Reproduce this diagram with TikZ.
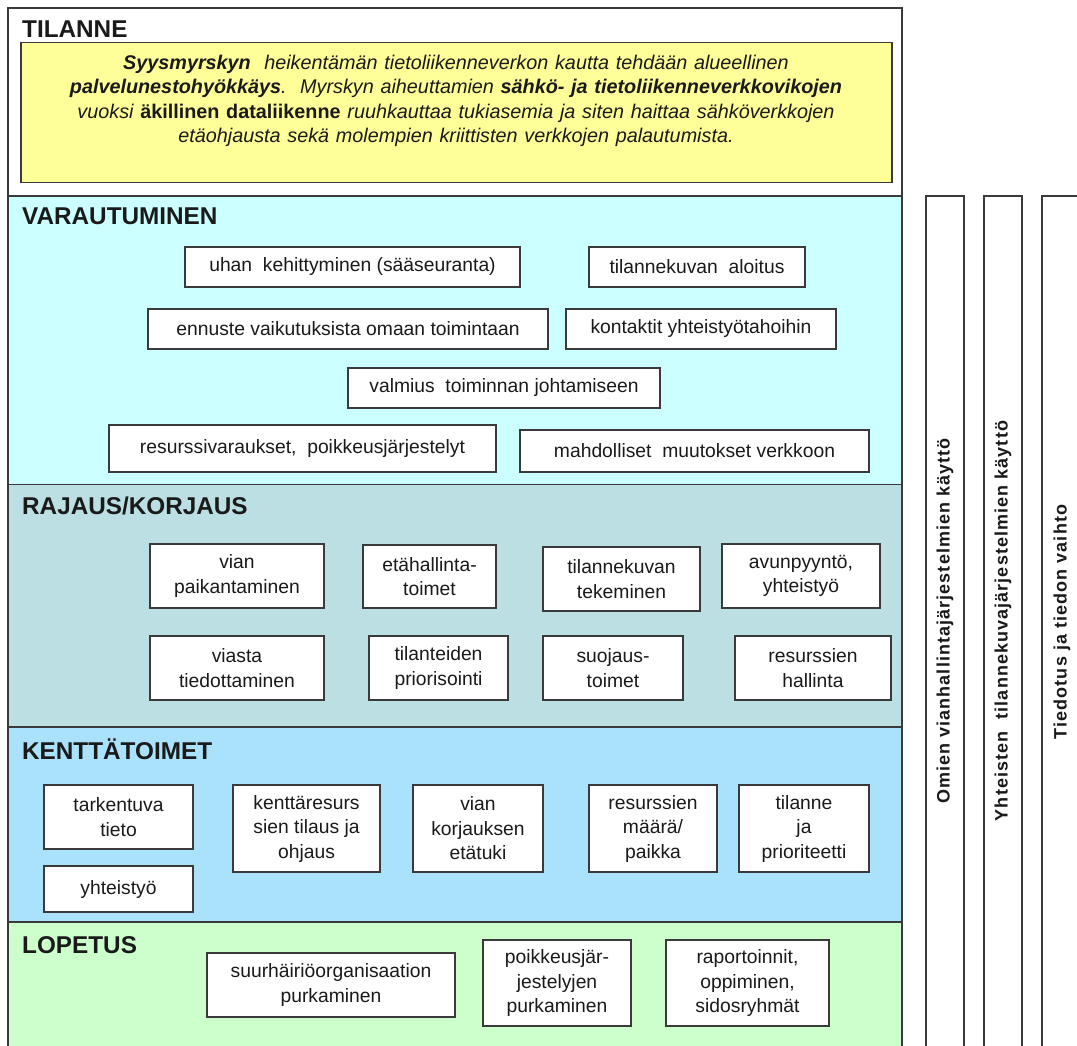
\documentclass[tikz,border=0pt]{standalone}
\usepackage{fontspec}
\setmainfont{Liberation Sans}
\definecolor{lc}{HTML}{3A3A3A}
\definecolor{tc}{HTML}{1A1A1A}
\definecolor{yel}{HTML}{FFFF99}
\definecolor{cya}{HTML}{CCFFFF}
\definecolor{raj}{HTML}{BBDFE3}
\definecolor{ken}{HTML}{AAE1FB}
\definecolor{lop}{HTML}{CCFFCC}
\newcommand\myboxfont{\fontsize{19.3}{24.5}\selectfont}
\newcommand\myheadfont{\fontsize{24.3}{26}\selectfont\bfseries}
\newcommand\myvfont{\fontsize{18}{20}\selectfont\bfseries\addfontfeatures{LetterSpace=6}}
\newcommand\myyfont{\fontsize{19.8}{24.6}\selectfont\itshape\spaceskip=0.34em plus 0.1em}
\newcommand\mybox[6]{\node[box, minimum width={(#4-#2)*1pt}, minimum height={(#5-#3)*1pt}] (#1) at ({(#2+#4)/2},{(#3+#5)/2}) {#6};}
\tikzset{
  sec/.style={draw=lc, line width=1.3pt, anchor=north west, inner sep=0, outer sep=0},
  box/.style={draw=lc, line width=1.2pt, fill=white, inner sep=0, align=center, font=\myboxfont, text=tc},
  head/.style={anchor=base west, inner sep=0, font=\myheadfont, text=tc},
  vtxt/.style={rotate=90, font=\myvfont, inner sep=0, text=tc}
}
\begin{document}
\begin{tikzpicture}[x=1pt,y=-1pt]
\useasboundingbox (0,0) rectangle (1077,1045);
\clip (0,0) rectangle (1077,1045);
\fill[white] (0,0) rectangle (1077,1045);
% sections
\node[sec, fill=white, minimum width=894pt, minimum height=188pt] (tilanne) at (8,8) {};
\node[sec, fill=cya, minimum width=894pt, minimum height=288.5pt] (varau) at (8,196) {};
\node[sec, fill=raj, minimum width=894pt, minimum height=242.5pt] (rajaus) at (8,484.5) {};
\node[sec, fill=ken, minimum width=894pt, minimum height=195pt] (kentta) at (8,727) {};
\node[sec, fill=lop, minimum width=894pt, minimum height=140pt] (lopetus) at (8,922) {};
% headings
\node[head] (h1) at (22,37) {TILANNE};
\node[head] (h2) at (22,224) {VARAUTUMINEN};
\node[head] (h3) at (22,514) {RAJAUS/KORJAUS};
\node[head] (h4) at (22,759) {KENTTÄTOIMET};
\node[head] (h5) at (22,953) {LOPETUS};
% yellow
\node[sec, fill=yel, minimum width=871pt, minimum height=140pt] (yellow) at (21,42.5) {};
\node[anchor=north, align=center, font=\myyfont, text=tc, inner sep=0] (ytext) at (456,54.5)
 {\textbf{Syysmyrskyn}\ \ heikentämän tietoliikenneverkon kautta tehdään alueellinen\\
  \textbf{palvelunestohyökkäys}.\ \ Myrskyn aiheuttamien\ \textbf{sähkö- ja tietoliikenneverkkovikojen}\\
  vuoksi \textbf{\upshape äkillinen dataliikenne} ruuhkauttaa tukiasemia ja siten haittaa sähköverkkojen\\
  etäohjausta sekä molempien kriittisten verkkojen palautumista.};
% varautuminen
\mybox{v1}{185}{247}{520}{287}{uhan\ \ kehittyminen (sääseuranta)}
\mybox{v2}{589}{247}{805}{287}{tilannekuvan\ \ aloitus}
\mybox{v3}{148}{309}{548}{349}{ennuste vaikutuksista omaan toimintaan}
\mybox{v4}{566}{309}{836}{349}{kontaktit yhteistyötahoihin}
\mybox{v5}{348}{368}{660}{408}{valmius\ \ toiminnan johtamiseen}
\mybox{v6}{109}{425}{496}{472}{resurssivaraukset,\ \ poikkeusjärjestelyt}
\mybox{v7}{520}{430}{869}{472}{mahdolliset\ \ muutokset verkkoon}
% rajaus
\mybox{r1}{150}{544}{324}{608}{vian\\paikantaminen}
\mybox{r2}{363}{545}{496}{608}{etähallinta-\\toimet}
\mybox{r3}{543}{547}{700}{611}{tilannekuvan\\tekeminen}
\mybox{r4}{722}{544}{880}{608}{avunpyyntö,\\yhteistyö}
\mybox{r5}{150}{636}{324}{700}{viasta\\tiedottaminen}
\mybox{r6}{369}{636}{508}{700}{tilanteiden\\priorisointi}
\mybox{r7}{543}{636}{683}{700}{suojaus-\\toimet}
\mybox{r8}{735}{636}{891}{700}{resurssien\\hallinta}
% kenttatoimet
\mybox{k1}{44}{785}{193}{849}{tarkentuva\\tieto}
\mybox{k2}{44}{866}{193}{912}{yhteistyö}
\mybox{k3}{233}{785}{380}{872}{kenttäresurs\\sien tilaus ja\\ohjaus}
\mybox{k4}{413}{785}{543}{872}{vian\\korjauksen\\etätuki}
\mybox{k5}{589}{785}{717}{872}{resurssien\\määrä/\\paikka}
\mybox{k6}{739}{785}{869}{872}{tilanne\\ja\\prioriteetti}
% lopetus
\mybox{l1}{207}{953}{455}{1017}{suurhäiriöorganisaation\\purkaminen}
\mybox{l2}{483}{940}{631}{1026}{poikkeusjär-\\jestelyjen\\purkaminen}
\mybox{l3}{666}{940}{829}{1026}{raportoinnit,\\oppiminen,\\sidosryhmät}
% side columns
\node[sec, fill=white, minimum width=38pt, minimum height=870pt] (c1) at (926,196) {};
\node[sec, fill=white, minimum width=38pt, minimum height=870pt] (c2) at (984,196) {};
\node[sec, fill=white, minimum width=40pt, minimum height=870pt] (c3) at (1042,196) {};
\node[vtxt] (t1) at (945,621) {Omien vianhallintajärjestelmien käyttö};
\node[vtxt] (t2) at (1003,621) {Yhteisten\ \ tilannekuvajärjestelmien käyttö};
\node[vtxt] (t3) at (1062,622) {Tiedotus ja tiedon vaihto};
\end{tikzpicture}
\end{document}
